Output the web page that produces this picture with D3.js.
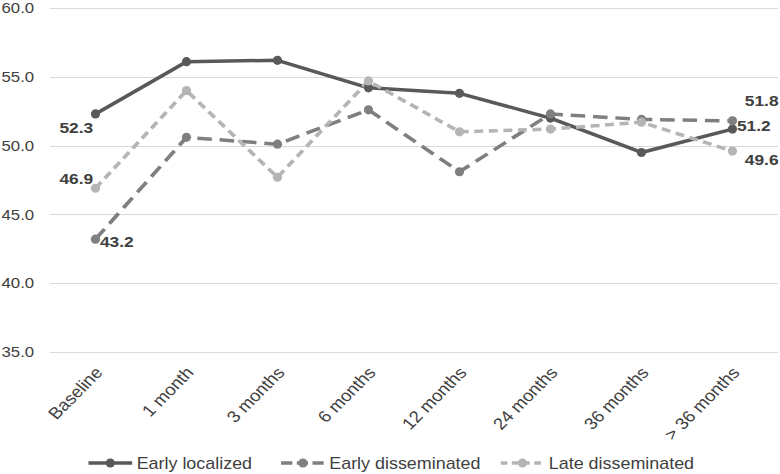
<!DOCTYPE html>
<html><head><meta charset="utf-8">
<script src="https://cdn.jsdelivr.net/npm/d3@7"></script>
<style>
body{margin:0;background:#fff}
svg{display:block}
text{font-family:"Liberation Sans",Arial,sans-serif}
</style>
</head><body>
<svg id="chart" width="780" height="474"></svg>
<script>
const categories = ["Baseline","1 month","3 months","6 months","12 months","24 months","36 months","> 36 months"];
const earlyLocalized    = [52.3, 56.1, 56.2, 54.2, 53.8, 52.0, 49.5, 51.2];
const earlyDisseminated = [43.2, 50.6, 50.1, 52.6, 48.1, 52.3, 51.9, 51.8];
const lateDisseminated  = [46.9, 54.0, 47.7, 54.7, 51.0, 51.2, 51.7, 49.6];
const yTicks = [35, 40, 45, 50, 55, 60];
const seriesNames = ["Early localized", "Early disseminated", "Late disseminated"];

const series = [
  {name: seriesNames[0], values: earlyLocalized,    color: "#595959", dash: null},
  {name: seriesNames[1], values: earlyDisseminated, color: "#7f7f7f", dash: "13,7"},
  {name: seriesNames[2], values: lateDisseminated,  color: "#b5b5b5", dash: "8,5"}
];

// labels shown on first and last points: [seriesIndex, pointIndex, anchor, dx, dy]
const labelPlacement = [
  [0, 0, "end", -2, 19],
  [2, 0, "end", -2, -4],
  [1, 0, "start", 4, 8],
  [1, 7, "start", 11, -15],
  [0, 7, "start", 4, 2],
  [2, 7, "start", 11, 14]
];

const SX = 1.12;
const W = 780 / SX;
const svg = d3.select("#chart");
const g = svg.append("g").attr("transform", `scale(${SX},1)`);

const x = d3.scaleBand().domain(categories).range([44.6, W - 1.8]);
const cx = d => x(d) + x.bandwidth() / 2;
const y = d3.scaleLinear().domain([35, 60]).range([352, 8]);

// gridlines
g.append("g").selectAll("line").data(yTicks).join("line")
  .attr("x1", x.range()[0]).attr("x2", x.range()[1])
  .attr("y1", d => Math.round(y(d)) + 0.5).attr("y2", d => Math.round(y(d)) + 0.5)
  .attr("stroke", "#d9d9d9").attr("stroke-width", 1);

// y tick labels
g.append("g").selectAll("text").data(yTicks).join("text")
  .attr("x", 30.5).attr("y", d => y(d)).attr("dy", "0.35em")
  .attr("text-anchor", "end").attr("font-size", 15).attr("fill", "#404040")
  .text(d => d.toFixed(1));

// x labels (rotation compensates the horizontal stretch so they appear at 45 degrees)
const rot = Math.atan(SX) * 180 / Math.PI;
g.append("g").selectAll("text").data(categories).join("text")
  .attr("transform", d => `translate(${cx(d) - 2},${365}) rotate(${-rot})`)
  .attr("text-anchor", "end").attr("dy", "0.75em")
  .attr("font-size", 16.5).attr("fill", "#404040")
  .text(d => d);

// lines
const line = d3.line().x((v, i) => cx(categories[i])).y(v => y(v));
series.forEach(s => {
  g.append("path").datum(s.values)
    .attr("d", line).attr("fill", "none")
    .attr("stroke", s.color).attr("stroke-width", 3.5)
    .attr("stroke-dasharray", s.dash)
    .attr("stroke-linejoin", "round");
});
series.forEach(s => {
  g.append("g").selectAll("ellipse").data(s.values).join("ellipse")
    .attr("cx", (v, i) => cx(categories[i])).attr("cy", v => y(v))
    .attr("rx", 4.6 / SX).attr("ry", 4.6)
    .attr("fill", s.color);
});

// value labels
g.append("g").selectAll("text").data(labelPlacement).join("text")
  .attr("x", d => cx(categories[d[1]]) + d[3])
  .attr("y", d => y(series[d[0]].values[d[1]]) + d[4])
  .attr("text-anchor", d => d[2])
  .attr("font-size", 15.5).attr("font-weight", "bold").attr("fill", "#404040")
  .text(d => series[d[0]].values[d[1]].toFixed(1));

// legend
const legendX = [79, 251, 447];
const ly = 463;
const lg = g.append("g").selectAll("g").data(series).join("g")
  .attr("transform", (d, i) => `translate(${legendX[i]},${ly})`);
lg.append("line").attr("x1", 0).attr("x2", 39).attr("y1", 0).attr("y2", 0)
  .attr("stroke", d => d.color).attr("stroke-width", 3.5)
  .attr("stroke-dasharray", (d, i) => i === 0 ? null : (i === 1 ? "10,4" : "6,4"));
lg.append("ellipse").attr("cx", 19.5).attr("cy", 0).attr("rx", 4.6 / SX).attr("ry", 4.6)
  .attr("fill", d => d.color);
lg.append("text").attr("x", 43).attr("y", 0).attr("dy", "0.35em")
  .attr("font-size", 16).attr("fill", "#404040").text(d => d.name);
</script>
</body></html>
